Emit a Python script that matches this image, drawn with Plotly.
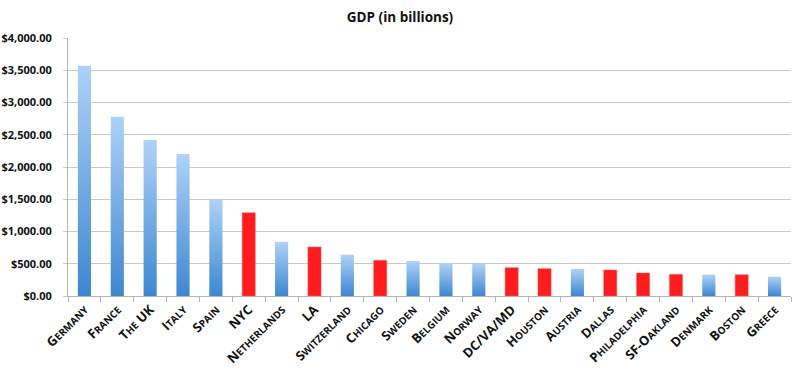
import plotly.graph_objects as go

categories = ["Germany", "France", "The UK", "Italy", "Spain", "NYC", "Netherlands", "LA",
              "Switzerland", "Chicago", "Sweden", "Belgium", "Norway", "DC/VA/MD", "Houston",
              "Austria", "Dallas", "Philadelphia", "SF-Oakland", "Denmark", "Boston", "Greece"]
gdp = [3570, 2780, 2420, 2200, 1500, 1290, 840, 760, 640, 553, 543, 506, 496, 439, 424,
       419, 403, 357, 336, 333, 330, 300]
is_city = [False, False, False, False, False, True, False, True, False, True, False, False,
           False, True, True, False, True, True, True, False, True, False]
SC = "<span style='font-size:10px'>"
tick_labels = [
    f"G{SC}ERMANY</span>",
    f"F{SC}RANCE</span>",
    f"T{SC}HE</span> UK",
    f"I{SC}TALY</span>",
    f"S{SC}PAIN</span>",
    "NYC",
    f"N{SC}ETHERLANDS</span>",
    "LA",
    f"S{SC}WITZERLAND</span>",
    f"C{SC}HICAGO</span>",
    f"S{SC}WEDEN</span>",
    f"B{SC}ELGIUM</span>",
    f"N{SC}ORWAY</span>",
    "DC/VA/MD",
    f"H{SC}OUSTON</span>",
    f"A{SC}USTRIA</span>",
    f"D{SC}ALLAS</span>",
    f"P{SC}HILADELPHIA</span>",
    f"SF-O{SC}AKLAND</span>",
    f"D{SC}ENMARK</span>",
    f"B{SC}OSTON</span>",
    f"G{SC}REECE</span>",
]

BAR_HALF = 0.2
BLUE_TOP = "#aed2f8"
BLUE_BOTTOM = "#3d87d0"
RED = "#ff1c1c"

fig = go.Figure()

# country bars: vertical gradient polygons
for i, (v, city) in enumerate(zip(gdp, is_city)):
    if city:
        continue
    fig.add_trace(go.Scatter(
        x=[i - BAR_HALF, i + BAR_HALF, i + BAR_HALF, i - BAR_HALF, i - BAR_HALF],
        y=[0, 0, v, v, 0],
        mode="lines", fill="toself",
        line=dict(width=0, color=BLUE_BOTTOM),
        fillgradient=dict(type="vertical",
                          colorscale=[[0, BLUE_BOTTOM], [1, BLUE_TOP]]),
        hoverinfo="skip", showlegend=False,
    ))

# city bars: solid red
city_x = [i for i, c in enumerate(is_city) if c]
city_y = [gdp[i] for i in city_x]
fig.add_trace(go.Bar(
    x=city_x, y=city_y, width=2 * BAR_HALF,
    marker=dict(color=RED, line=dict(width=0.5, color="#ff6060")),
    showlegend=False,
))

fig.update_layout(
    width=800, height=371,
    margin=dict(l=68, r=9, t=38, b=75, autoexpand=False),
    plot_bgcolor="white", paper_bgcolor="white",
    font=dict(family="Open Sans, DejaVu Sans, sans-serif", color="#111"),
    title=dict(text="<b>GDP (in billions)</b>", x=0.5, xanchor="center", xref="container",
               y=1 - 17 / 371, yanchor="middle",
               font=dict(size=13.5, family="Open Sans, sans-serif", color="#111")),
)

fig.update_xaxes(
    range=[-0.5, len(categories) - 0.5], automargin=False,
    tickmode="array", tickvals=list(range(len(categories))), ticktext=tick_labels,
    tickangle=-45, ticks="", showgrid=False, zeroline=False,
    showline=True, linecolor="#b5b5b5", linewidth=1,
    tickfont=dict(size=13, family="Open Sans, sans-serif", color="#111", weight="bold"),
    minor=dict(tick0=-0.5, dtick=1, ticks="outside", ticklen=5, tickcolor="#b5b5b5",
               showgrid=False),
)

fig.update_yaxes(
    range=[0, 4000], automargin=False,
    tickvals=[0, 500, 1000, 1500, 2000, 2500, 3000, 3500, 4000],
    tickformat="$,.2f", showgrid=True, gridcolor="#c8c8c8", gridwidth=1.3,
    zeroline=False, showline=True, linecolor="#b5b5b5", linewidth=1,
    ticks="outside", ticklen=4, tickcolor="#c8c8c8", ticklabelstandoff=9,
    tickfont=dict(size=11, family="Open Sans, sans-serif", color="#111", weight="bold"),
)

fig.write_html("out.html", config={"displayModeBar": False},
               post_script="document.body.style.margin='0';")
